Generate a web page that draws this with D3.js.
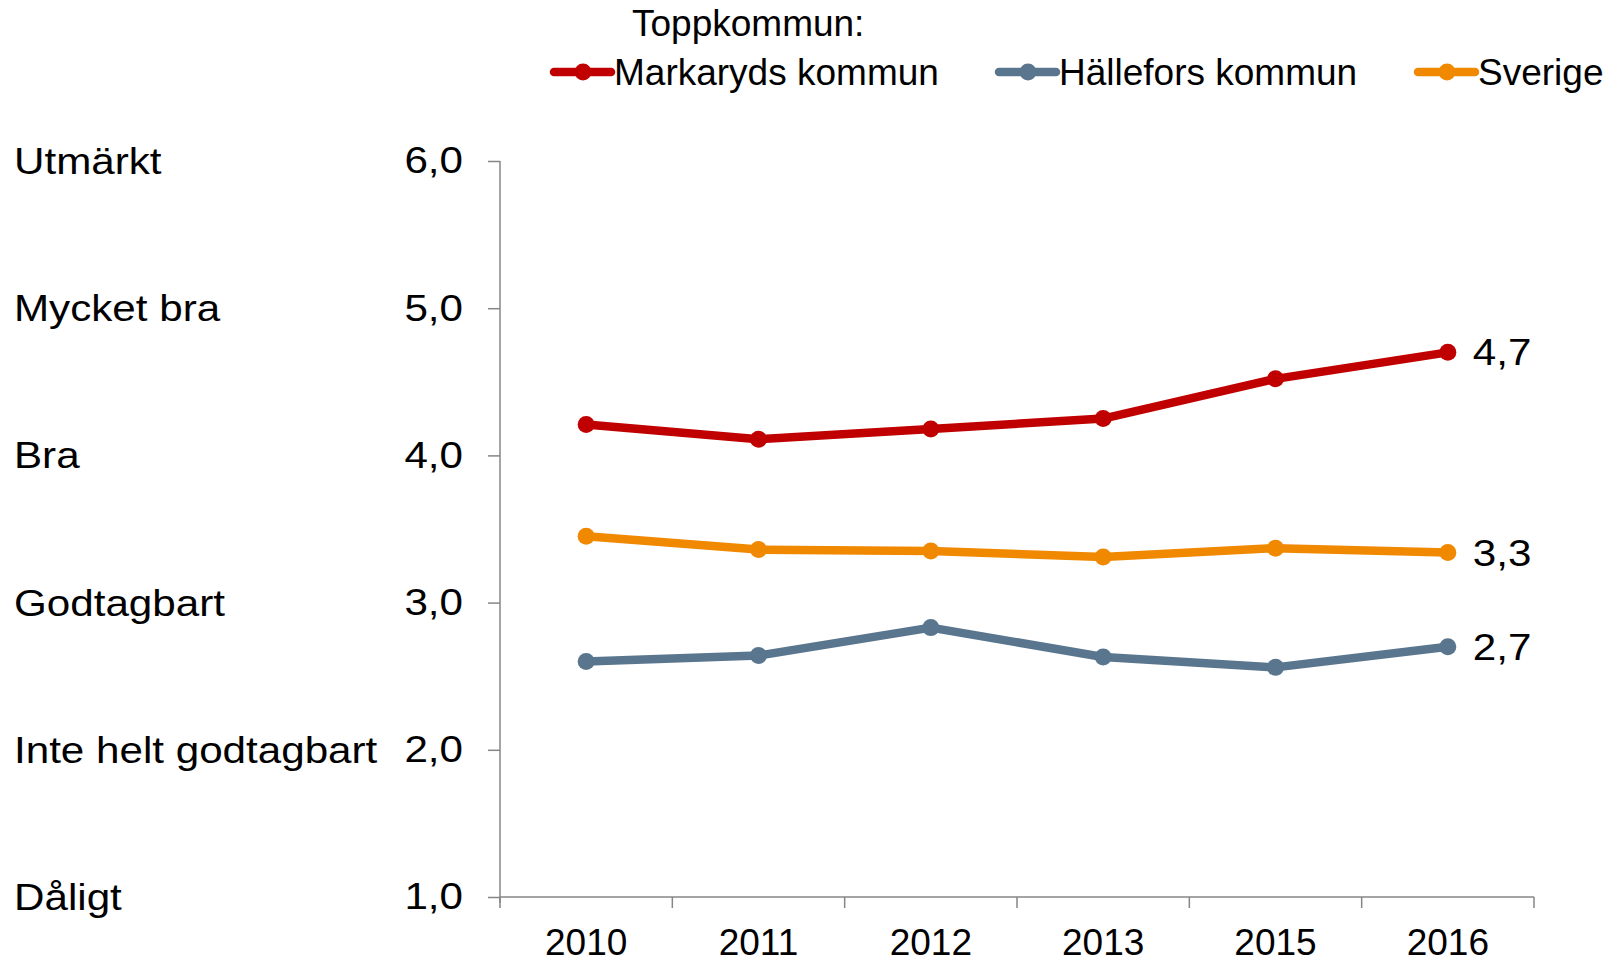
<!DOCTYPE html>
<html>
<head>
<meta charset="utf-8">
<script src="https://cdn.jsdelivr.net/npm/d3@7"></script>
<style>
  body { margin: 0; background: #fff; }
  svg { display: block; font-family: "Liberation Sans", Arial, sans-serif; }
</style>
</head>
<body>
<svg></svg>
<script>
const years = ["2010", "2011", "2012", "2013", "2015", "2016"];
const markaryd = [4.21, 4.11, 4.18, 4.25, 4.52, 4.70];
const hallefors = [2.60, 2.64, 2.83, 2.63, 2.56, 2.70];
const sverige = [3.45, 3.36, 3.35, 3.31, 3.37, 3.34];
const yTicks = [1, 2, 3, 4, 5, 6];
const ratingLabels = ["Dåligt", "Inte helt godtagbart", "Godtagbart", "Bra", "Mycket bra", "Utmärkt"];
const endLabels = ["4,7", "2,7", "3,3"];

const series = [
    { name: "Markaryds kommun", values: markaryd, color: "#c00000", label: endLabels[0] },
    { name: "Hällefors kommun", values: hallefors, color: "#59768e", label: endLabels[1] },
    { name: "Sverige", values: sverige, color: "#f08800", label: endLabels[2] }
];

const width = 1618, height = 960;
const plotLeft = 500, plotRight = 1534, plotTop = 161, plotBottom = 897;
const fontSize = 37;
const stretch = 1.14; // y-axis side text is drawn a little wider in the original

const svg = d3.select("svg")
    .attr("width", width)
    .attr("height", height);

const x = d3.scaleBand().domain(years).range([plotLeft, plotRight]);
const y = d3.scaleLinear().domain([1, 6]).range([plotBottom, plotTop]);

// Y axis
const yAxis = svg.append("g")
    .attr("transform", `translate(${plotLeft},0)`)
    .call(d3.axisLeft(y).tickValues(yTicks).tickSize(12)
        .tickFormat(d => d3.format(".1f")(d).replace(".", ",")));
yAxis.select(".domain").attr("d", `M0,${plotTop}V${plotBottom + 6}`);
yAxis.selectAll(".tick text")
    .attr("x", 0)
    .attr("transform", `translate(-37,0) scale(${stretch},1)`);

// X axis
const xAxis = svg.append("g")
    .attr("transform", `translate(0,${plotBottom})`)
    .call(d3.axisBottom(x).tickSize(0).tickPadding(32));
xAxis.select(".domain").attr("d", `M${plotLeft},0H${plotRight}`);
xAxis.selectAll(".bound")
    .data(d3.range(years.length + 1))
    .join("line")
    .attr("class", "bound")
    .attr("x1", i => plotLeft + i * x.bandwidth())
    .attr("x2", i => plotLeft + i * x.bandwidth())
    .attr("y1", 0)
    .attr("y2", 11);

svg.selectAll(".domain, .tick line, .bound").attr("stroke", "#868686").attr("stroke-width", 1.5);
svg.selectAll(".tick text")
    .attr("font-size", fontSize)
    .attr("font-family", "Liberation Sans, Arial, sans-serif")
    .attr("fill", "#000");

// Rating labels on the left
svg.selectAll(".rating")
    .data(yTicks)
    .join("text")
    .attr("class", "rating")
    .attr("transform", d => `translate(14,${y(d)}) scale(${stretch},1)`)
    .attr("dy", "0.35em")
    .attr("font-size", fontSize)
    .text((d, i) => ratingLabels[i]);

// Lines
const line = d3.line()
    .x((d, i) => x(years[i]) + x.bandwidth() / 2)
    .y(d => y(d));

series.forEach(s => {
    svg.append("path")
        .datum(s.values)
        .attr("d", line)
        .attr("fill", "none")
        .attr("stroke", s.color)
        .attr("stroke-width", 8.5)
        .attr("stroke-linejoin", "round");

    svg.append("g").selectAll("circle")
        .data(s.values)
        .join("circle")
        .attr("cx", (d, i) => x(years[i]) + x.bandwidth() / 2)
        .attr("cy", d => y(d))
        .attr("r", 8.5)
        .attr("fill", s.color);

    const last = s.values.length - 1;
    svg.append("text")
        .attr("transform", `translate(${x(years[last]) + x.bandwidth() / 2 + 25},${y(s.values[last])}) scale(${stretch},1)`)
        .attr("dy", "0.35em")
        .attr("font-size", fontSize)
        .text(s.label);
});

// Legend
svg.append("text")
    .attr("x", 632)
    .attr("y", 23)
    .attr("dy", "0.35em")
    .attr("font-size", fontSize)
    .text("Toppkommun:");

const legendX = [554, 999, 1418];
const legend = svg.selectAll(".legend")
    .data(series)
    .join("g")
    .attr("class", "legend")
    .attr("transform", (d, i) => `translate(${legendX[i]},72)`);

legend.append("line")
    .attr("x1", 0).attr("x2", 57)
    .attr("stroke", d => d.color)
    .attr("stroke-width", 8.5)
    .attr("stroke-linecap", "round");

legend.append("circle")
    .attr("cx", 29)
    .attr("r", 8.5)
    .attr("fill", d => d.color);

legend.append("text")
    .attr("x", 60)
    .attr("dy", "0.35em")
    .attr("font-size", fontSize)
    .text(d => d.name);
</script>
</body>
</html>
